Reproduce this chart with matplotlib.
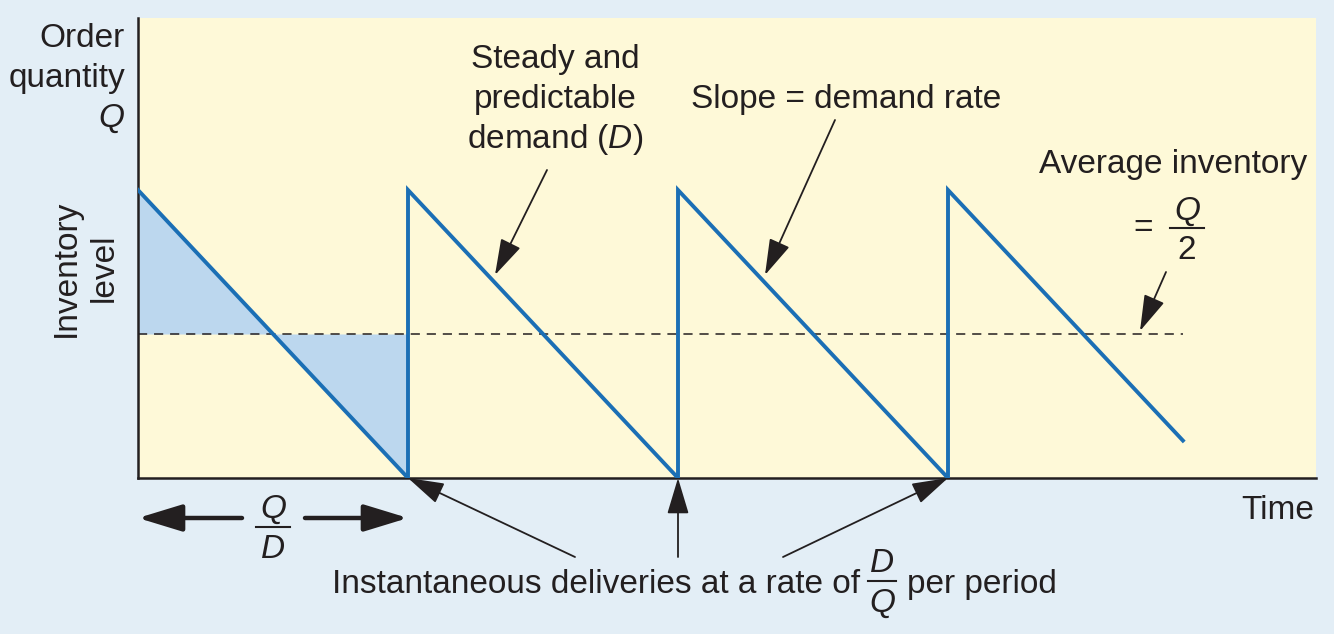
import matplotlib.pyplot as plt

plt.rcParams['font.family'] = ['Liberation Sans', 'DejaVu Sans']
plt.rcParams['mathtext.fontset'] = 'custom'
plt.rcParams['mathtext.rm'] = 'Liberation Sans'
plt.rcParams['mathtext.it'] = 'Liberation Sans:italic'

# inventory sawtooth (time in cycles of Q/D, level in units of Q)
saw_time = [0, 1, 1, 2, 2, 3, 3, 3.87]
saw_level = [1, 0, 1, 0, 1, 0, 1, 0.13]
shade_time = [0, 0.5, 1]
shade_level = [1, 0.5, 0]
avg_level = 0.5
avg_end = 3.87
delivery_times = [1, 2, 3]

W, H = 1334, 634
bg = '#e3eef6'
yellow = '#fef9d8'
blue = '#1b6fb5'
shade = '#bcd7ee'
ink = '#231f20'

fig = plt.figure(figsize=(W / 100, H / 100), dpi=100, facecolor=bg)
ax = fig.add_axes([138 / W, 1 - 478 / H, (1316 - 138) / W, (478 - 18) / H])
ax.set_facecolor(yellow)
ax.set_xlim(0, (1316 - 138) / 270)
ax.set_ylim(0, (478 - 18) / 288)
for s in ['top', 'right']:
    ax.spines[s].set_visible(False)
for s in ['left', 'bottom']:
    ax.spines[s].set_linewidth(1.8)
    ax.spines[s].set_color(ink)
ax.set_xticks([])
ax.set_yticks([])

ax.fill_between(shade_time, shade_level, avg_level, color=shade, lw=0)
ax.hlines(avg_level, 0, avg_end, color=ink, lw=1.1, linestyles=(0, (6, 4.5)))
ax.plot(saw_time, saw_level, color=blue, lw=2.8, solid_joinstyle='miter', zorder=3)


def fx(x):
    return x / W


def fy(y):
    return 1 - y / H


def d(px, py):
    # pixel position -> data coords
    return ((px - 138) / 270, (478 - py) / 288)


def txt(x, y, s, size=24, **kw):
    kw.setdefault('ha', 'center')
    fig.text(fx(x), fy(y), s, fontsize=size, color=ink, va='baseline', **kw)


def frac(x, top, bar, bottom, num, den, half=17):
    txt(x, top, num)
    txt(x, bottom, den)
    fig.add_artist(plt.Line2D([fx(x - half), fx(x + half)], [fy(bar), fy(bar)],
                              color=ink, lw=1.5))


# y-axis labels
txt(125, 47, 'Order', ha='right')
txt(125, 87, 'quantity', ha='right')
txt(125, 127, '$Q$', ha='right')
fig.text(fx(66), fy(268), 'Inventory', fontsize=24, color=ink, rotation=90,
         ha='center', va='center')
fig.text(fx(104), fy(268), 'level', fontsize=24, color=ink, rotation=90,
         ha='center', va='center')

txt(555, 68, 'Steady and')
txt(555, 108, 'predictable')
txt(555, 148, r'demand $\mathit{(D)}$')
txt(846, 108, 'Slope = demand rate')
txt(1173, 173, 'Average inventory')
txt(1143, 237, '=')
frac(1187, 220, 228, 259, '$Q$', '2')
txt(1278, 519, 'Time')
frac(273, 518, 527, 558, '$Q$', '$D$')
txt(860, 593, 'Instantaneous deliveries at a rate of', ha='right')
frac(882, 572, 581, 612, '$D$', '$Q$', half=14)
txt(907, 593, 'per period', ha='left')

thin = dict(arrowstyle='-|>,head_length=1.5,head_width=0.45', color=ink,
            lw=1.3, shrinkA=0, shrinkB=0, mutation_scale=15)
thick = dict(arrowstyle='-|>,head_length=1.8,head_width=0.55', color=ink,
             lw=3.2, shrinkA=0, shrinkB=0, mutation_scale=15)

ax.annotate('', xy=d(495, 275), xytext=d(547, 170), arrowprops=thin,
            annotation_clip=False)
ax.annotate('', xy=d(765, 275), xytext=d(835, 120), arrowprops=thin,
            annotation_clip=False)
ax.annotate('', xy=d(1140, 331), xytext=d(1166, 272), arrowprops=thin,
            annotation_clip=False)
for t, tail_x in zip(delivery_times, [575, 678, 783]):
    ax.annotate('', xy=(t, 0), xytext=d(tail_x, 557), arrowprops=thin,
                annotation_clip=False)
ax.annotate('', xy=(0, d(0, 518)[1]), xytext=d(242, 518), arrowprops=thick,
            annotation_clip=False)
ax.annotate('', xy=(1, d(0, 518)[1]), xytext=d(305, 518), arrowprops=thick,
            annotation_clip=False)

fig.savefig('out.png', dpi=100, facecolor=bg)
